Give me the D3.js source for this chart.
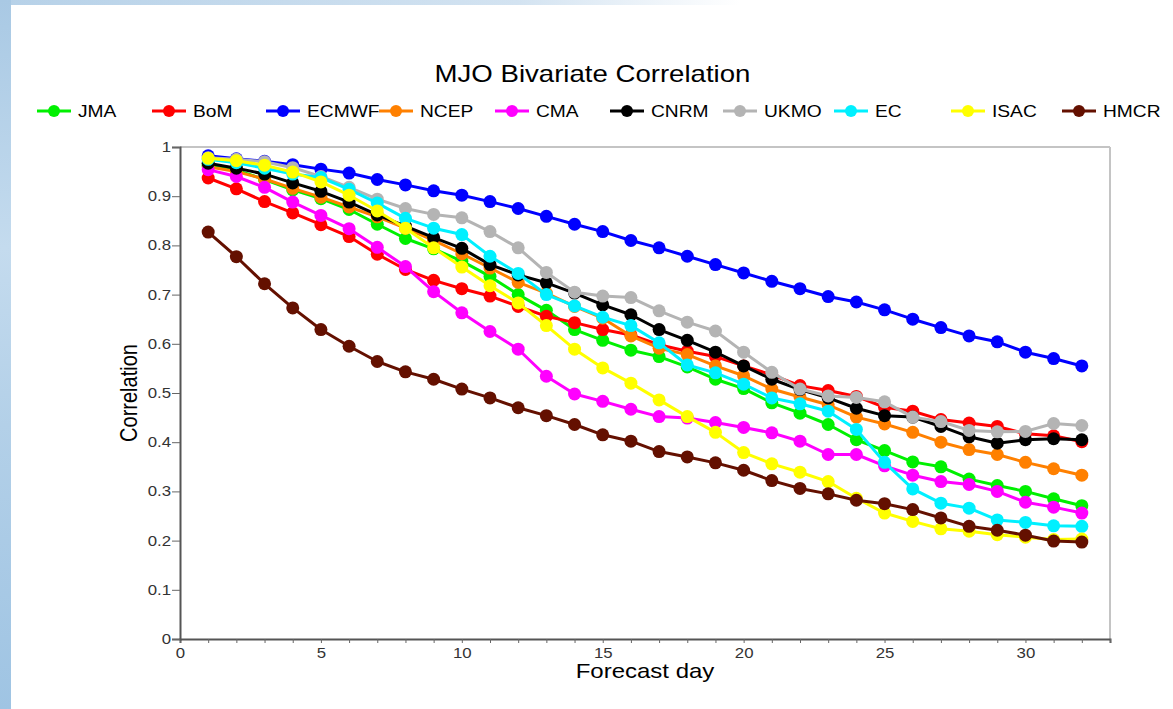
<!DOCTYPE html>
<html>
<head>
<meta charset="utf-8">
<script src="https://cdn.jsdelivr.net/npm/d3@7"></script>
<style>
  html, body { margin: 0; padding: 0; background: #ffffff; }
  svg { display: block; font-family: "Liberation Sans", Arial, Helvetica, sans-serif; }
</style>
</head>
<body>
<svg id="chart" width="1173" height="709"></svg>
<script>
// Forecast lead time (days)
const days = d3.range(1, 33);

// Model names, in legend / drawing order
const models = ["JMA", "BoM", "ECMWF", "NCEP", "CMA", "CNRM", "UKMO", "EC", "ISAC", "HMCR"];

// Bivariate correlation per model, days 1..32
const JMA   = [0.963,0.953,0.934,0.913,0.895,0.873,0.843,0.814,0.793,0.768,0.737,0.700,0.668,0.629,0.607,0.587,0.574,0.553,0.528,0.509,0.480,0.459,0.436,0.405,0.383,0.360,0.350,0.325,0.312,0.300,0.285,0.271];
const BoM   = [0.937,0.915,0.889,0.866,0.842,0.818,0.782,0.751,0.729,0.712,0.697,0.676,0.656,0.643,0.629,0.618,0.598,0.585,0.574,0.555,0.537,0.515,0.505,0.493,0.471,0.463,0.446,0.439,0.432,0.417,0.413,0.401];
const ECMWF = [0.982,0.976,0.971,0.964,0.955,0.947,0.934,0.923,0.911,0.902,0.889,0.875,0.859,0.843,0.828,0.810,0.795,0.778,0.761,0.744,0.727,0.712,0.696,0.685,0.669,0.650,0.633,0.616,0.604,0.583,0.570,0.555];
const NCEP  = [0.960,0.950,0.935,0.916,0.898,0.878,0.858,0.835,0.810,0.783,0.754,0.725,0.703,0.676,0.652,0.616,0.591,0.578,0.555,0.535,0.508,0.492,0.476,0.451,0.437,0.420,0.400,0.385,0.375,0.359,0.346,0.333];
const CMA   = [0.954,0.940,0.918,0.888,0.861,0.834,0.796,0.757,0.706,0.663,0.625,0.589,0.534,0.498,0.483,0.467,0.452,0.449,0.440,0.430,0.419,0.402,0.375,0.375,0.352,0.333,0.320,0.314,0.300,0.278,0.268,0.256];
const CNRM  = [0.967,0.957,0.945,0.927,0.910,0.888,0.862,0.839,0.816,0.794,0.761,0.740,0.724,0.703,0.679,0.659,0.629,0.607,0.583,0.555,0.528,0.507,0.490,0.469,0.454,0.451,0.432,0.411,0.398,0.405,0.407,0.405];
const UKMO  = [0.978,0.975,0.970,0.958,0.940,0.918,0.894,0.875,0.863,0.856,0.828,0.795,0.745,0.705,0.697,0.694,0.667,0.644,0.626,0.583,0.542,0.508,0.494,0.491,0.482,0.451,0.442,0.424,0.421,0.422,0.438,0.434];
const EC    = [0.975,0.968,0.957,0.945,0.938,0.914,0.886,0.855,0.835,0.822,0.778,0.743,0.700,0.677,0.654,0.637,0.602,0.557,0.541,0.518,0.490,0.478,0.463,0.426,0.359,0.305,0.276,0.266,0.242,0.237,0.230,0.229];
const ISAC  = [0.977,0.972,0.963,0.949,0.929,0.902,0.870,0.835,0.795,0.756,0.718,0.683,0.637,0.589,0.551,0.520,0.486,0.452,0.420,0.379,0.356,0.339,0.320,0.286,0.256,0.239,0.224,0.219,0.212,0.207,0.202,0.203];
const HMCR  = [0.827,0.777,0.722,0.673,0.629,0.595,0.564,0.543,0.528,0.508,0.490,0.470,0.454,0.436,0.415,0.402,0.381,0.370,0.358,0.343,0.322,0.306,0.295,0.282,0.275,0.263,0.246,0.229,0.221,0.211,0.199,0.197];

// Axis tick values
const xTickValues = d3.range(0, 34);
const xTickLabels = [0, 5, 10, 15, 20, 25, 30];
const yTickValues = [0, 0.1, 0.2, 0.3, 0.4, 0.5, 0.6, 0.7, 0.8, 0.9, 1];

// ---- styling / layout ----
const seriesValues = { JMA, BoM, ECMWF, NCEP, CMA, CNRM, UKMO, EC, ISAC, HMCR };
const colors = {
  JMA: "#00f000", BoM: "#ff0000", ECMWF: "#0000ff", NCEP: "#ff8000", CMA: "#ff00ff",
  CNRM: "#000000", UKMO: "#b4b4b4", EC: "#00f0ff", ISAC: "#ffff00", HMCR: "#641000"
};
const legendX = [37, 152, 266, 379, 495, 610, 723, 834, 951, 1062];
const STRETCH = 1.2;   // horizontal text stretch used throughout the figure

const svg = d3.select("#chart");

// Slide backdrop: pale sky strip on the left and along the top
const defs = svg.append("defs");
const gLeft = defs.append("linearGradient").attr("id", "skyLeft").attr("x1", 0).attr("y1", 0).attr("x2", 0).attr("y2", 1);
gLeft.append("stop").attr("offset", "0%").attr("stop-color", "#a9c9e4");
gLeft.append("stop").attr("offset", "35%").attr("stop-color", "#c4dbee");
gLeft.append("stop").attr("offset", "60%").attr("stop-color", "#b3d0e8");
gLeft.append("stop").attr("offset", "100%").attr("stop-color", "#9fc4e3");
const gTop = defs.append("linearGradient").attr("id", "skyTop").attr("x1", 0).attr("y1", 0).attr("x2", 1).attr("y2", 0);
gTop.append("stop").attr("offset", "0%").attr("stop-color", "#b6d1e8");
gTop.append("stop").attr("offset", "70%").attr("stop-color", "#d3e3f1");
gTop.append("stop").attr("offset", "100%").attr("stop-color", "#ffffff");

svg.append("rect").attr("x", 0).attr("y", 0).attr("width", 1173).attr("height", 709).attr("fill", "#ffffff");
svg.append("rect").attr("x", 0).attr("y", 0).attr("width", 740).attr("height", 5).attr("fill", "url(#skyTop)");
svg.append("rect").attr("x", 0).attr("y", 0).attr("width", 11).attr("height", 709).attr("fill", "url(#skyLeft)");

// Scales
const x = d3.scaleLinear().domain([0, 33]).range([180, 1110]);
const y = d3.scaleLinear().domain([0, 1]).range([639, 147]);

// Frame: light top and right edges
svg.append("line").attr("x1", x(0)).attr("x2", x(33)).attr("y1", y(1)).attr("y2", y(1))
  .attr("stroke", "#c4c4c4").attr("stroke-width", 2);
svg.append("line").attr("x1", x(33)).attr("x2", x(33)).attr("y1", y(1)).attr("y2", y(0))
  .attr("stroke", "#c4c4c4").attr("stroke-width", 2);

// X axis
const xAxis = d3.axisBottom(x)
  .tickValues(xTickValues)
  .tickSize(4)
  .tickPadding(5)
  .tickFormat(d => xTickLabels.includes(d) ? d : "");
const gx = svg.append("g").attr("transform", `translate(0,${y(0)})`).call(xAxis);
gx.select(".domain").attr("stroke", "#555555").attr("stroke-width", 2);
gx.selectAll(".tick line").attr("stroke", "#666666").attr("stroke-width", 1);
gx.selectAll(".tick text")
  .attr("font-size", 14).attr("fill", "#333333")
  .attr("font-family", "Liberation Sans, Arial, sans-serif")
  .attr("transform", `scale(${STRETCH},1)`);

// Y axis
const yAxis = d3.axisLeft(y)
  .tickValues(yTickValues)
  .tickSize(8)
  .tickPadding(1)
  .tickFormat(d => d3.format("~g")(d));
const gy = svg.append("g").attr("transform", `translate(${x(0)},0)`).call(yAxis);
gy.select(".domain").attr("stroke", "#555555").attr("stroke-width", 2);
gy.selectAll(".tick line").attr("stroke", "#666666").attr("stroke-width", 1);
gy.selectAll(".tick text")
  .attr("font-size", 14).attr("fill", "#333333")
  .attr("font-family", "Liberation Sans, Arial, sans-serif")
  .attr("x", -9 / STRETCH)
  .attr("transform", `scale(${STRETCH},1)`);

// Series lines and markers
const line = d3.line().x((d, i) => x(days[i])).y(d => y(d));
models.forEach(m => {
  const g = svg.append("g").attr("class", "series");
  g.append("path")
    .datum(seriesValues[m])
    .attr("d", line)
    .attr("fill", "none")
    .attr("stroke", colors[m])
    .attr("stroke-width", 3)
    .attr("stroke-linejoin", "round");
  g.selectAll("circle")
    .data(seriesValues[m])
    .join("circle")
    .attr("cx", (d, i) => x(days[i]))
    .attr("cy", d => y(d))
    .attr("r", 6.5)
    .attr("fill", colors[m]);
});

// Stretched text helper
function label(sel, px, py, txt, size, anchor, rotate) {
  return sel.append("text")
    .attr("transform", `translate(${px},${py}) scale(${STRETCH},1)` + (rotate ? ` rotate(${rotate})` : ""))
    .attr("text-anchor", anchor)
    .attr("font-size", size)
    .attr("fill", "#000")
    .text(txt);
}

// Title and axis titles
label(svg, 592.5, 82, "MJO Bivariate Correlation", 23, "middle");
label(svg, (x(0) + x(33)) / 2, 678, "Forecast day", 20, "middle");
label(svg, 137, 393, "Correlation", 20, "middle", -90);

// Legend
const legend = svg.append("g").attr("class", "legend");
models.forEach((m, i) => {
  const lx = legendX[i], ly = 111;
  legend.append("line").attr("x1", lx).attr("x2", lx + 34).attr("y1", ly).attr("y2", ly)
    .attr("stroke", colors[m]).attr("stroke-width", 3);
  legend.append("circle").attr("cx", lx + 17).attr("cy", ly).attr("r", 6).attr("fill", colors[m]);
  label(legend, lx + 41, ly + 6, m, 16, "start");
});
</script>
</body>
</html>
